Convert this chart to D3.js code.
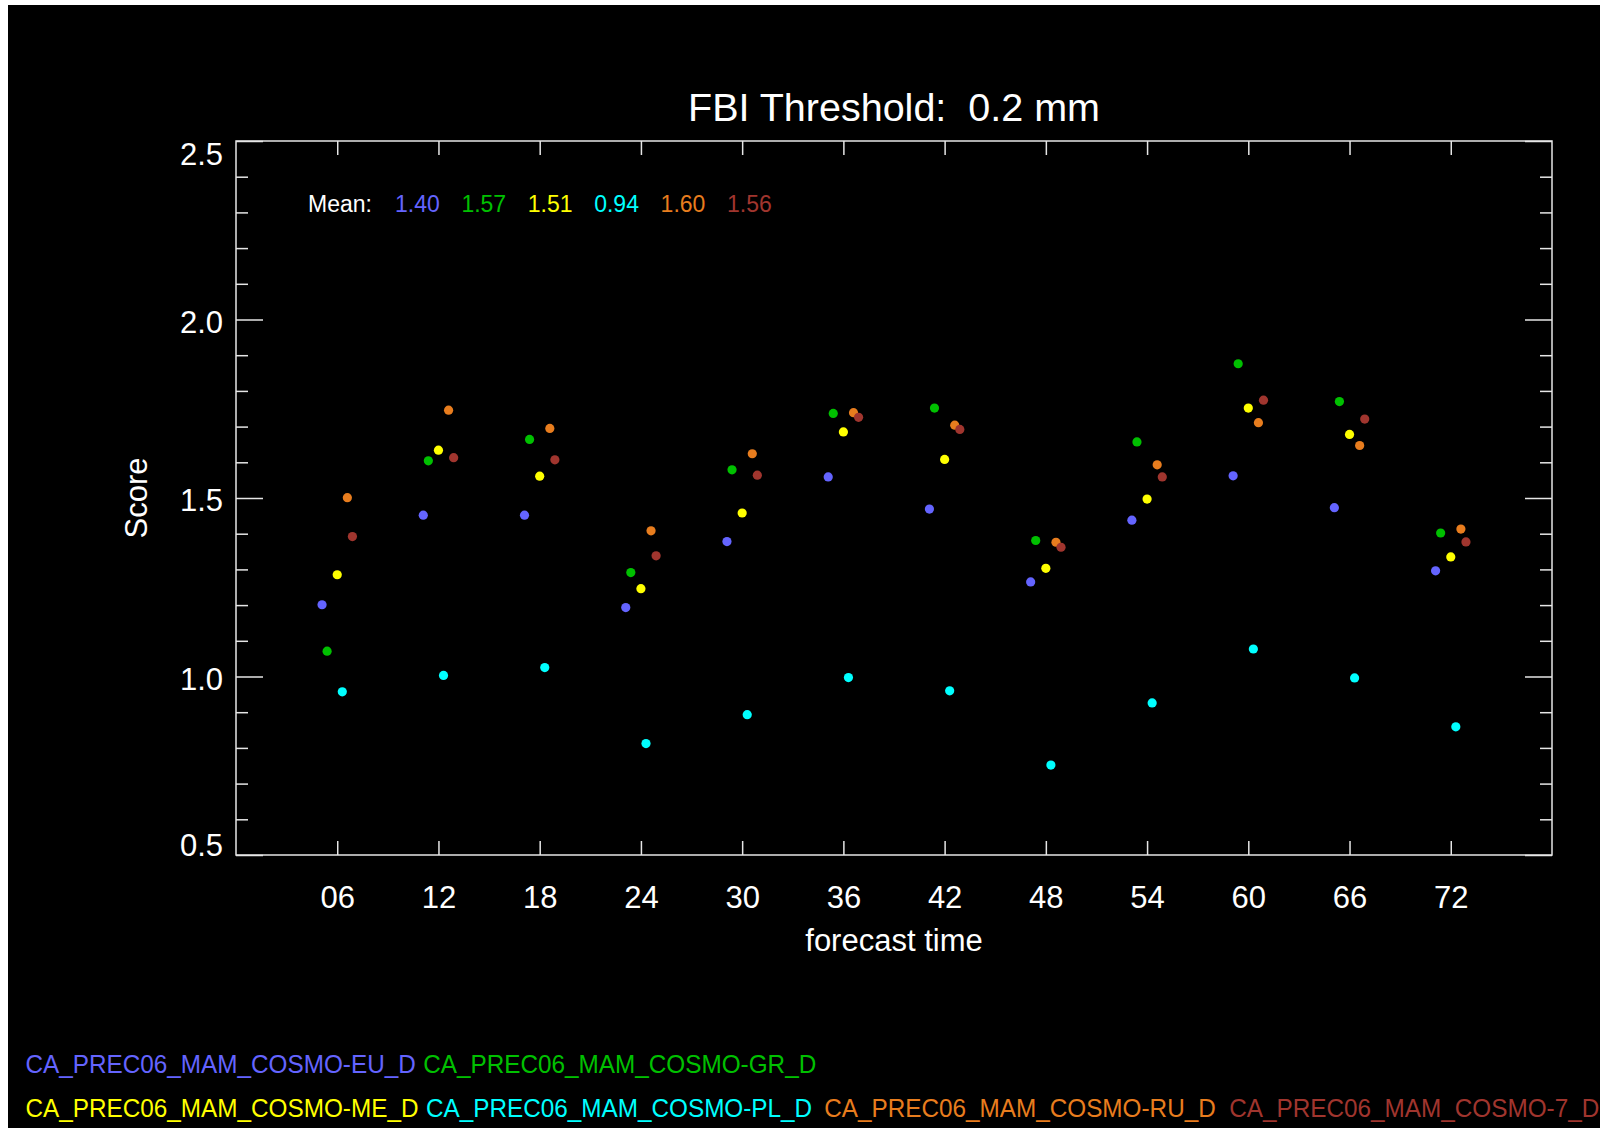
<!DOCTYPE html>
<html>
<head>
<meta charset="utf-8">
<script src="https://cdn.jsdelivr.net/npm/d3@7"></script>
<style>
  html, body { margin: 0; padding: 0; background: #000; }
  svg { display: block; }
  text { font-family: "Liberation Sans", Arial, Helvetica, sans-serif; fill: #fff; }
</style>
</head>
<body>
<svg id="chart" width="1600" height="1128"></svg>
<script>
// ---------------- data ----------------
const hours = [6, 12, 18, 24, 30, 36, 42, 48, 54, 60, 66, 72];
const tickLabels = ["06", "12", "18", "24", "30", "36", "42", "48", "54", "60", "66", "72"];
const yMajorTicks = [0.5, 1.0, 1.5, 2.0, 2.5];

const seriesNames = [
  "CA_PREC06_MAM_COSMO-EU_D",
  "CA_PREC06_MAM_COSMO-GR_D",
  "CA_PREC06_MAM_COSMO-ME_D",
  "CA_PREC06_MAM_COSMO-PL_D",
  "CA_PREC06_MAM_COSMO-RU_D",
  "CA_PREC06_MAM_COSMO-7_D"
];
const meanLabels = ["1.40", "1.57", "1.51", "0.94", "1.60", "1.56"];

const valuesEU = [1.201, 1.452, 1.452, 1.193, 1.378, 1.559, 1.469, 1.265, 1.438, 1.562, 1.473, 1.296];
const valuesGR = [1.071, 1.604, 1.664, 1.291, 1.579, 1.737, 1.752, 1.381, 1.657, 1.876, 1.770, 1.402];
const valuesME = [1.285, 1.634, 1.561, 1.246, 1.458, 1.685, 1.608, 1.303, 1.497, 1.752, 1.678, 1.335];
const valuesPL = [0.957, 1.003, 1.025, 0.812, 0.893, 0.997, 0.960, 0.752, 0.926, 1.077, 0.996, 0.859];
const valuesRU = [1.501, 1.746, 1.695, 1.408, 1.624, 1.739, 1.704, 1.376, 1.593, 1.711, 1.647, 1.413];
const values7  = [1.392, 1.613, 1.607, 1.338, 1.564, 1.726, 1.692, 1.362, 1.559, 1.774, 1.721, 1.377];

// ---------------- styles / layout ----------------
const colors = ["#6464ff", "#00c000", "#ffff00", "#00ffff", "#e87d1e", "#a0352e"];
const xOffsets = [-0.9, -0.6, 0, 0.3, 0.6, 0.9]; // horizontal jitter in hours
const allValues = [valuesEU, valuesGR, valuesME, valuesPL, valuesRU, values7];

const series = seriesNames.map((name, i) => ({
  name, color: colors[i], offset: xOffsets[i], mean: meanLabels[i],
  points: hours.map((h, j) => ({ h, v: allValues[i][j] }))
}));

const W = 1600, H = 1128;
const plot = { left: 236, right: 1552, top: 141, bottom: 855 };

const svg = d3.select("#chart");
svg.append("rect").attr("width", W).attr("height", H).attr("fill", "#000");
// white strips along top and left edges of the picture
svg.append("rect").attr("x", 0).attr("y", 0).attr("width", W).attr("height", 5).attr("fill", "#fff");
svg.append("rect").attr("x", 0).attr("y", 0).attr("width", 8).attr("height", H).attr("fill", "#fff");

const x = d3.scaleLinear().domain([0, 78]).range([plot.left, plot.right]);
const y = d3.scaleLinear().domain([0.5, 2.5]).range([plot.bottom, plot.top]);

const axisColor = "#e6e6e6";
const minorTicks = d3.range(5, 26).map(d => d / 10).filter(d => Math.abs(d * 2 - Math.round(d * 2)) > 1e-6);

function styleAxis(g) {
  g.select(".domain").remove();
  g.selectAll(".tick line").attr("stroke", axisColor).attr("stroke-width", 1.5);
}

// bottom axis with labels
const gBottom = svg.append("g").attr("transform", `translate(0,${plot.bottom})`)
  .call(d3.axisBottom(x).tickValues(hours).tickSizeInner(-14).tickSizeOuter(0).tickPadding(31)
    .tickFormat((d, i) => tickLabels[i]));
styleAxis(gBottom);
gBottom.selectAll(".tick text").attr("fill", "#fff").attr("font-size", 31)
  .style("font-family", '"Liberation Sans", Arial, sans-serif');

// top axis (ticks only)
const gTop = svg.append("g").attr("transform", `translate(0,${plot.top})`)
  .call(d3.axisTop(x).tickValues(hours).tickSizeInner(-14).tickSizeOuter(0).tickFormat(""));
styleAxis(gTop);

// left axis: major with labels, minor
const gLeft = svg.append("g").attr("transform", `translate(${plot.left},0)`)
  .call(d3.axisLeft(y).tickValues(yMajorTicks).tickSizeInner(-27).tickSizeOuter(0).tickPadding(13)
    .tickFormat(d3.format(".1f")));
styleAxis(gLeft);
gLeft.selectAll(".tick text").attr("fill", "#fff").attr("font-size", 31)
  .style("font-family", '"Liberation Sans", Arial, sans-serif')
  .attr("dy", null).attr("dominant-baseline", "central")
  .attr("y", d => {
    const ty = y(d);
    const c = Math.max(plot.top + 13, Math.min(plot.bottom - 10, ty + 2));
    return c - ty;
  });
const gLeftMinor = svg.append("g").attr("transform", `translate(${plot.left},0)`)
  .call(d3.axisLeft(y).tickValues(minorTicks).tickSizeInner(-12).tickSizeOuter(0).tickFormat(""));
styleAxis(gLeftMinor);

// right axis
const gRight = svg.append("g").attr("transform", `translate(${plot.right},0)`)
  .call(d3.axisRight(y).tickValues(yMajorTicks).tickSizeInner(-27).tickSizeOuter(0).tickFormat(""));
styleAxis(gRight);
const gRightMinor = svg.append("g").attr("transform", `translate(${plot.right},0)`)
  .call(d3.axisRight(y).tickValues(minorTicks).tickSizeInner(-12).tickSizeOuter(0).tickFormat(""));
styleAxis(gRightMinor);

// frame
svg.append("rect")
  .attr("x", plot.left).attr("y", plot.top)
  .attr("width", plot.right - plot.left).attr("height", plot.bottom - plot.top)
  .attr("fill", "none").attr("stroke", axisColor).attr("stroke-width", 1.5);

// title
const cx = (plot.left + plot.right) / 2;
svg.append("text").attr("x", cx).attr("y", 121).attr("text-anchor", "middle")
  .attr("font-size", 39.5).style("white-space", "pre").text("FBI Threshold:  0.2 mm");

// axis titles
svg.append("text").attr("x", cx).attr("y", 951).attr("text-anchor", "middle")
  .attr("font-size", 31).text("forecast time");
svg.append("text").attr("transform", "translate(147,498) rotate(-90)").attr("text-anchor", "middle")
  .attr("font-size", 31).text("Score");

// mean labels
svg.append("text").attr("x", 308).attr("y", 212).attr("font-size", 23).text("Mean:");
svg.append("g").selectAll("text").data(series).join("text")
  .attr("x", (d, i) => 395 + i * 66.4).attr("y", 212).attr("font-size", 23)
  .attr("fill", d => d.color).style("fill", d => d.color).text(d => d.mean);

// points
const gPts = svg.append("g");
series.forEach(s => {
  gPts.append("g").selectAll("circle").data(s.points).join("circle")
    .attr("cx", d => x(d.h + s.offset))
    .attr("cy", d => y(d.v))
    .attr("r", 4.6)
    .attr("fill", s.color);
});

// legend (condensed type, as in the original)
const legendRows = [[0, 1], [2, 3, 4, 5]];
const legendGaps = [[7.5, 0], [7.5, 12, 13.5, 0]];
const legendBaselines = [1073, 1117];
const legendSize = 26, legendSqueeze = 24.3 / 26;
legendRows.forEach((row, r) => {
  let xp = 25.5;
  row.forEach((i, k) => {
    const t = svg.append("text").attr("x", xp).attr("y", legendBaselines[r])
      .attr("font-size", legendSize).style("fill", colors[i]).text(seriesNames[i]);
    const len = t.node().getComputedTextLength() * legendSqueeze;
    t.attr("textLength", len).attr("lengthAdjust", "spacingAndGlyphs");
    xp += len + legendGaps[r][k];
  });
});
</script>
</body>
</html>
